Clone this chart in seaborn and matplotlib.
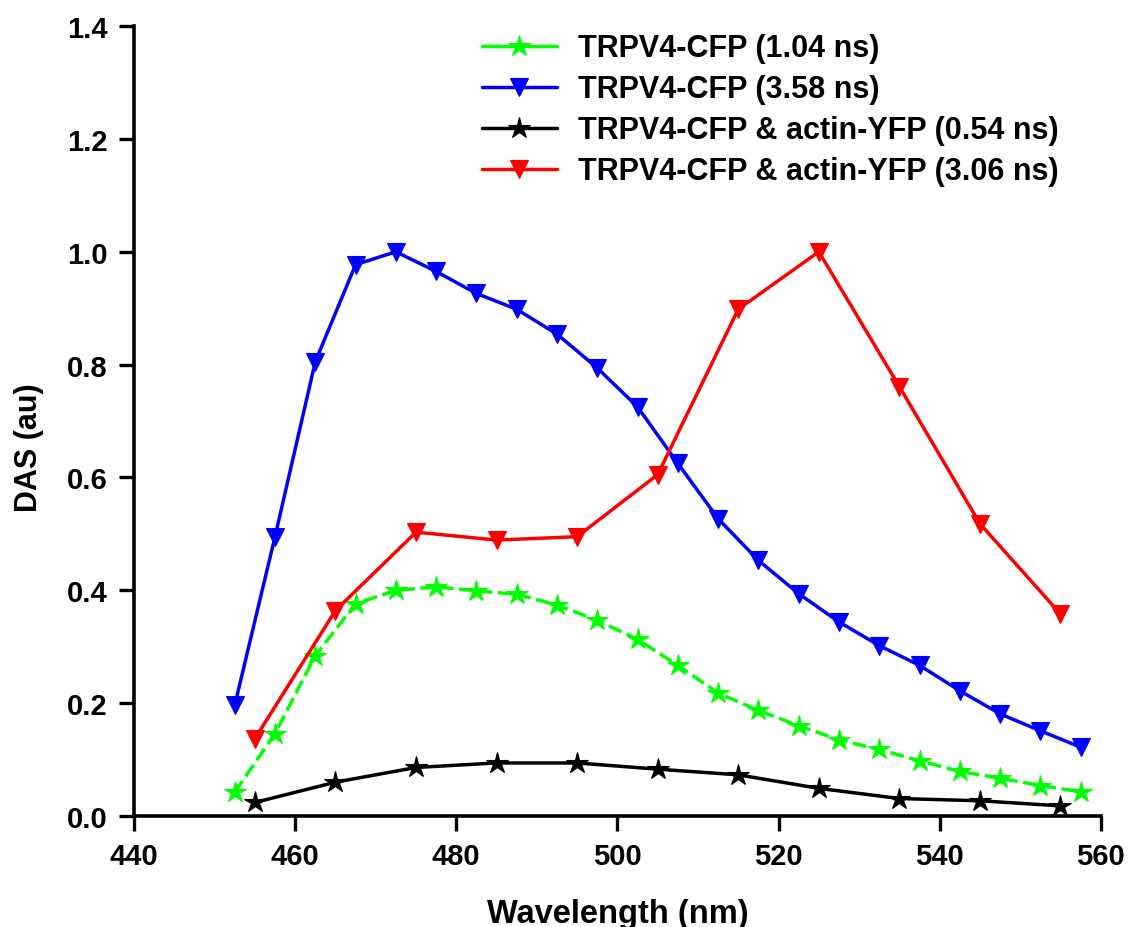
import numpy as np
import pandas as pd
import matplotlib
matplotlib.use("Agg")
import matplotlib.pyplot as plt
import seaborn as sns

# Wavelength grids (nm)
wl_fine = [452.5, 457.5, 462.5, 467.5, 472.5, 477.5, 482.5, 487.5, 492.5, 497.5, 502.5,
           507.5, 512.5, 517.5, 522.5, 527.5, 532.5, 537.5, 542.5, 547.5, 552.5, 557.5]
wl_coarse = [455, 465, 475, 485, 495, 505, 515, 525, 535, 545, 555]

# Decay-associated spectra
cfp_104 = [0.042, 0.146, 0.284, 0.376, 0.400, 0.406, 0.399, 0.393, 0.374, 0.347, 0.313,
           0.267, 0.218, 0.187, 0.160, 0.135, 0.118, 0.098, 0.079, 0.067, 0.054, 0.043]
cfp_358 = [0.196, 0.495, 0.805, 0.977, 1.000, 0.965, 0.926, 0.898, 0.854, 0.794, 0.725,
           0.625, 0.527, 0.453, 0.394, 0.344, 0.302, 0.267, 0.222, 0.181, 0.151, 0.122]
fret_054 = [0.024, 0.060, 0.086, 0.094, 0.094, 0.083, 0.073, 0.049, 0.031, 0.027, 0.018]
fret_306 = [0.137, 0.364, 0.503, 0.489, 0.495, 0.605, 0.898, 1.000, 0.761, 0.518, 0.358]

labels = ["TRPV4-CFP (1.04 ns)", "TRPV4-CFP (3.58 ns)",
          "TRPV4-CFP & actin-YFP (0.54 ns)", "TRPV4-CFP & actin-YFP (3.06 ns)"]

x_ticks = [440, 460, 480, 500, 520, 540, 560]
y_ticks = [0.0, 0.2, 0.4, 0.6, 0.8, 1.0, 1.2, 1.4]

sns.set_style("ticks")
plt.rcParams["font.family"] = ["Liberation Sans", "DejaVu Sans"]
plt.rcParams["font.weight"] = "bold"
plt.rcParams["text.color"] = "black"
plt.rcParams["axes.labelcolor"] = "black"
plt.rcParams["xtick.color"] = "black"
plt.rcParams["ytick.color"] = "black"

fig = plt.figure(figsize=(11.29, 9.28), dpi=100)
ax = fig.add_axes([0.1187, 0.1196, 0.8563, 0.8513])

series = [
    (wl_fine, cfp_104, "#00ff00", "*", (4, 1.6), 16),
    (wl_fine, cfp_358, "#0000ff", "v", "", 12.5),
    (wl_coarse, fret_054, "#000000", "*", "", 16),
    (wl_coarse, fret_306, "#ff0000", "v", "", 12.5),
]

for (x, y, color, marker, dash, ms), lab in zip(series, labels):
    df = pd.DataFrame({"wl": x, "das": y})
    sns.lineplot(data=df, x="wl", y="das", ax=ax, color=color, marker=marker,
                 markersize=ms, markeredgecolor=color, markeredgewidth=0.8,
                 linewidth=2.5, dashes=False, label=lab)
    line = ax.lines[-1]
    if dash:
        line.set_dashes(dash)

ax.set_xlim(440, 560)
ax.set_ylim(0, 1.4)
ax.set_xticks(x_ticks)
ax.set_yticks(y_ticks)
ax.set_xticklabels([str(t) for t in x_ticks], fontsize=21, fontweight="bold")
ax.set_yticklabels([f"{t:.1f}" for t in y_ticks], fontsize=21, fontweight="bold")
ax.tick_params(axis="x", direction="out", length=11, width=2.4, pad=8)
ax.tick_params(axis="y", direction="out", length=11, width=2.4, pad=8)

for s in ["top", "right"]:
    ax.spines[s].set_visible(False)
for s in ["left", "bottom"]:
    ax.spines[s].set_linewidth(2.6)
    ax.spines[s].set_color("black")

ax.set_xlabel("Wavelength (nm)", fontsize=23.5, fontweight="bold")
ax.xaxis.set_label_coords(0.5, -0.104)
ax.set_ylabel("DAS (au)", fontsize=22, fontweight="bold")
ax.yaxis.set_label_coords(-0.093, 0.467)

leg = ax.legend(loc="upper left", bbox_to_anchor=(0.347, 1.006), frameon=False,
                prop={"size": 22, "weight": "bold"}, handlelength=2.45,
                handletextpad=0.7, labelspacing=0.36, borderaxespad=0)
for h in leg.legend_handles:
    h.set_linestyle("-")

fig.savefig("out.png", dpi=100)
